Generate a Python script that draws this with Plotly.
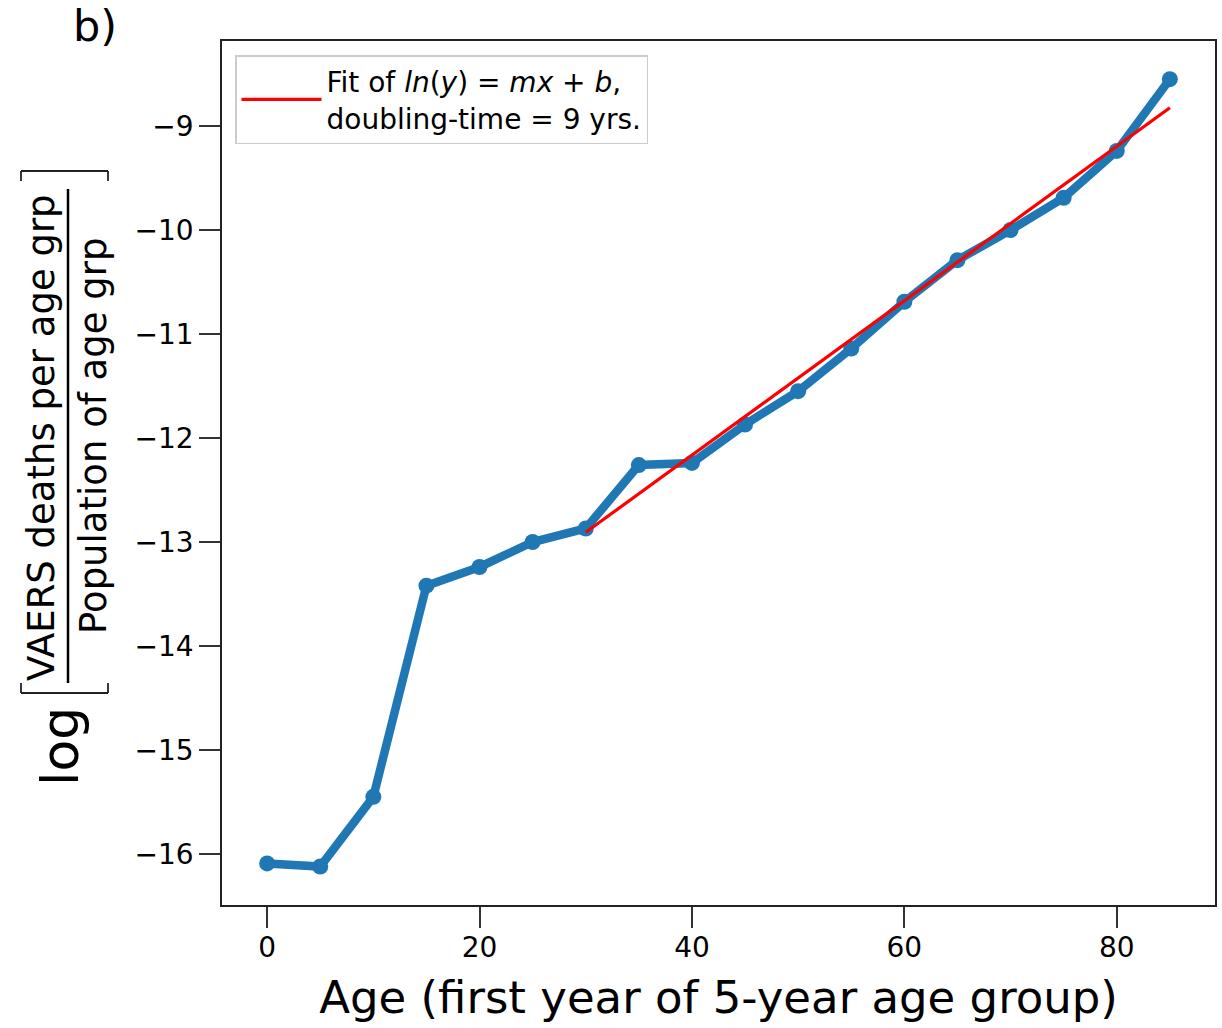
import numpy as np
import plotly.graph_objects as go

# ---- data ----
ages = [0, 5, 10, 15, 20, 25, 30, 35, 40, 45, 50, 55, 60, 65, 70, 75, 80, 85]
log_rate = [-16.09, -16.12, -15.45, -13.42, -13.24, -13.00, -12.87, -12.26, -12.24,
            -11.87, -11.55, -11.14, -10.69, -10.29, -10.00, -9.69, -9.24, -8.55]
fit_start_age = 30
x_ticks = [0, 20, 40, 60, 80]
y_ticks = [-16, -15, -14, -13, -12, -11, -10, -9]
fit_label = "Fit of <i>ln</i>(<i>y</i>) = <i>mx</i> + <i>b</i>,<br>doubling-time = 9 yrs."
x_title = "Age (first year of 5-year age group)"
y_num = "VAERS deaths per age grp"
y_den = "Population of age grp"

# linear fit of ln(y) for ages >= 30
xa = np.array(ages, dtype=float)
ya = np.array(log_rate, dtype=float)
mask = xa >= fit_start_age
m, b = np.polyfit(xa[mask], ya[mask], 1)
fit_x = xa[mask]
fit_y = m * fit_x + b

W, H = 1222, 1028
L, R, T, B = 222, 1215, 41, 905


def px(xp):
    return (xp - L) / (R - L)


def py(yp):
    return (B - yp) / (B - T)


FONT = "DejaVu Sans"

fig = go.Figure()
fig.add_trace(go.Scatter(
    x=ages, y=log_rate, mode="lines+markers",
    line=dict(color="#1f77b4", width=8.5),
    marker=dict(color="#1f77b4", size=16),
    showlegend=False,
))
fig.add_trace(go.Scatter(
    x=fit_x, y=fit_y, mode="lines",
    line=dict(color="red", width=3.2),
    name=fit_label,
))

axis_common = dict(
    showline=True, linecolor="#222", linewidth=1.6, mirror=True,
    ticks="outside", ticklen=21, tickwidth=1.6, tickcolor="#333",
    showgrid=False, zeroline=False,
    tickfont=dict(family=FONT, size=28, color="black"),
)

fig.update_layout(
    width=W, height=H,
    margin=dict(l=L, r=W - R, t=T, b=H - B, autoexpand=False),
    paper_bgcolor="white", plot_bgcolor="white",
    font=dict(family=FONT, color="black"),
    xaxis=dict(range=[-4.25, 89.25], tickvals=x_ticks, ticklabelstandoff=-4,
               title=dict(text=x_title, font=dict(family=FONT, size=45), standoff=18),
               **axis_common),
    yaxis=dict(range=[-16.49, -8.183], tickvals=y_ticks,
               tickformat="d", **axis_common),
    legend=dict(
        x=px(235), y=py(55), xanchor="left", yanchor="top",
        bordercolor="#cccccc", borderwidth=1.5, bgcolor="white",
        font=dict(family=FONT, size=28),
        itemwidth=80,
    ),
    showlegend=True,
)

# y-axis label: log [ numerator / denominator ]
ann = []
ann.append(dict(text="log", x=px(60), y=py(747), xref="paper", yref="paper",
                textangle=-90, showarrow=False, font=dict(family=FONT, size=52),
                xanchor="center", yanchor="middle"))
ann.append(dict(text=y_num, x=px(42), y=py(438), xref="paper", yref="paper",
                textangle=-90, showarrow=False, font=dict(family=FONT, size=37),
                xanchor="center", yanchor="middle"))
ann.append(dict(text=y_den, x=px(93), y=py(436), xref="paper", yref="paper",
                textangle=-90, showarrow=False, font=dict(family=FONT, size=37),
                xanchor="center", yanchor="middle"))
ann.append(dict(text="b)", x=px(95), y=py(26), xref="paper", yref="paper",
                showarrow=False, font=dict(family=FONT, size=43),
                xanchor="center", yanchor="middle"))
fig.update_layout(annotations=ann)

shapes = []
line_style = dict(color="black", width=2.5)
# fraction bar
shapes.append(dict(type="line", xref="paper", yref="paper",
                   x0=px(68), x1=px(68), y0=py(189), y1=py(683), line=line_style))
# brackets (rotated)
br = dict(color="#222", width=1.8)
for yb, yt in [(171, 181), (693, 683)]:
    shapes.append(dict(type="line", xref="paper", yref="paper",
                       x0=px(21), x1=px(108), y0=py(yb), y1=py(yb), line=br))
    shapes.append(dict(type="line", xref="paper", yref="paper",
                       x0=px(21), x1=px(21), y0=py(yb), y1=py(yt), line=br))
    shapes.append(dict(type="line", xref="paper", yref="paper",
                       x0=px(108), x1=px(108), y0=py(yb), y1=py(yt), line=br))
fig.update_layout(shapes=shapes)

fig.write_html("out.html",
               config={"displayModeBar": False},
               post_script="document.body.style.margin='0px';document.body.style.overflow='hidden';")
